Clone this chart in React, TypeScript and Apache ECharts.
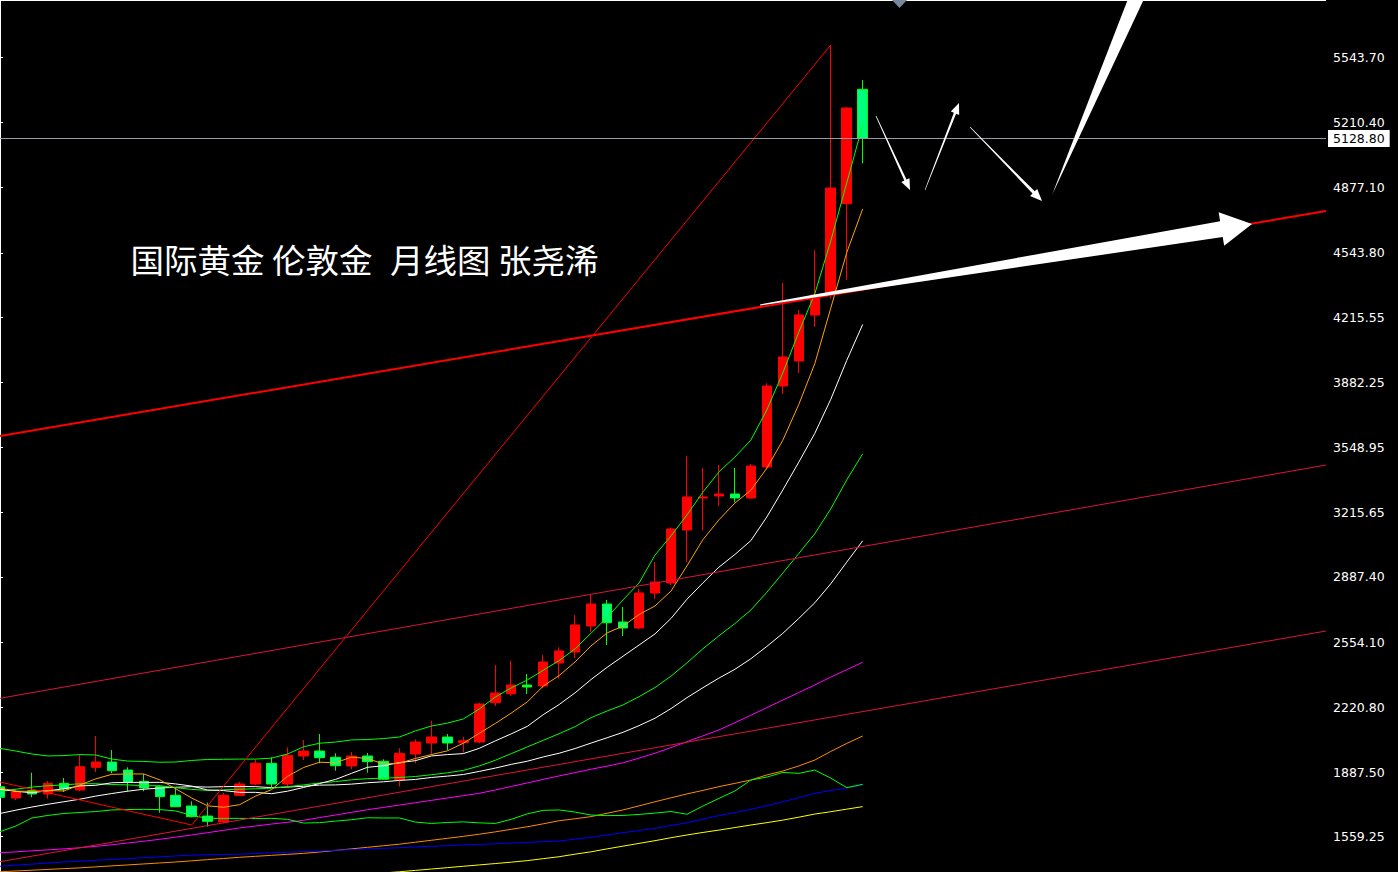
import React, { useEffect, useRef } from 'react';
import * as echarts from 'echarts';

// ---------- data ----------
const months = [
  '2021-09','2021-10','2021-11','2021-12',
  '2022-01','2022-02','2022-03','2022-04','2022-05','2022-06','2022-07','2022-08','2022-09','2022-10','2022-11','2022-12',
  '2023-01','2023-02','2023-03','2023-04','2023-05','2023-06','2023-07','2023-08','2023-09','2023-10','2023-11','2023-12',
  '2024-01','2024-02','2024-03','2024-04','2024-05','2024-06','2024-07','2024-08','2024-09','2024-10','2024-11','2024-12',
  '2025-01','2025-02','2025-03','2025-04','2025-05','2025-06','2025-07','2025-08','2025-09','2025-10','2025-11','2025-12',
  '2026-01','2026-02','2026-03','2026-04','2026-05','2026-06','2026-07','2026-08','2026-09','2026-10','2026-11','2026-12',
  '2027-01','2027-02','2027-03','2027-04','2027-05','2027-06','2027-07','2027-08','2027-09','2027-10','2027-11','2027-12',
  '2028-01','2028-02','2028-03','2028-04','2028-05','2028-06','2028-07','2028-08',
];

const opens = [
  1814.9, 1757.1, 1794.4, 1777.5, 1832.2, 1798.0, 1914.0, 1941.1, 1900.2, 1842.4,
  1814.9, 1770.8, 1716.2, 1665.0, 1634.4, 1770.8, 1828.7, 1934.5, 1828.7, 1971.8,
  1997.3, 1965.2, 1920.7, 1971.8, 1944.7, 1849.1, 1982.0, 2038.2, 2068.9, 2039.8,
  2043.3, 2244.3, 2290.3, 2334.7, 2329.6, 2447.2, 2503.4, 2636.4, 2748.8, 2656.8,
  2626.1, 2805.1, 2856.2, 3127.1, 3290.7, 3301.0, 3311.2, 3290.7, 3449.2, 3863.3,
  3991.1, 4226.3, 4338.7, 4795.2, 5380.1,
];
const closes = [
  1760.7, 1787.7, 1777.5, 1832.2, 1804.7, 1917.1, 1941.1, 1896.6, 1838.9, 1808.2,
  1763.7, 1712.6, 1661.5, 1637.9, 1770.8, 1828.7, 1934.5, 1828.7, 1975.4, 1997.3,
  1963.1, 1922.2, 1971.8, 1942.7, 1852.7, 1985.6, 2043.3, 2068.9, 2038.2, 2050.0,
  2237.6, 2293.8, 2334.7, 2324.5, 2452.3, 2508.6, 2641.5, 2748.8, 2653.2, 2626.1,
  2805.1, 2861.3, 3132.2, 3295.8, 3295.8, 3311.2, 3290.7, 3454.3, 3863.3, 4011.5,
  4226.3, 4328.5, 4875.5, 5284.5, 5128.8,
];
const lows = [
  1721.0, 1746.9, 1760.7, 1753.5, 1787.7, 1791.4, 1890.0, 1883.3, 1791.4, 1791.4,
  1681.9, 1709.5, 1658.4, 1610.3, 1627.7, 1767.3, 1822.0, 1811.8, 1811.8, 1951.3,
  1934.5, 1896.6, 1903.8, 1886.4, 1849.1, 1814.9, 1934.5, 1976.9, 2002.4, 1988.7,
  2036.7, 2227.4, 2278.5, 2288.7, 2319.0, 2367.0, 2472.8, 2605.7, 2539.2, 2585.2,
  2619.5, 2774.4, 2846.0, 2963.5, 3123.6, 3249.8, 3268.0, 3285.6, 3436.0, 3822.4,
  3929.8, 4164.9, 4310.0, 4405.2, 5001.8,
];
const highs = [
  1834.0, 1800.0, 1886.4, 1844.0, 1859.3, 1978.4, 2074.0, 2002.4, 1914.0, 1879.8,
  1822.0, 1808.2, 1740.2, 1733.1, 1784.2, 1838.9, 1954.9, 1965.2, 2016.2, 2053.6,
  2084.2, 1985.6, 1992.2, 1987.1, 1954.9, 2011.1, 2057.1, 2152.2, 2084.2, 2070.4,
  2244.3, 2437.0, 2459.0, 2391.0, 2488.1, 2527.5, 2692.6, 2800.0, 2769.3, 2733.5,
  2827.1, 2963.5, 3140.0, 3505.4, 3444.1, 3459.4, 3444.1, 3464.5, 3877.1, 4389.9,
  4251.8, 4558.5, 5606.5, 5290.0, 5427.6,
];

const ma5 = [
  1808, 1792, 1791, 1795, 1793, 1824, 1855, 1878, 1880, 1880,
  1850, 1804, 1757, 1717, 1710, 1723, 1767, 1800, 1868, 1913,
  1940, 1937, 1966, 1959, 1931, 1935, 1959, 1979, 1998, 2037,
  2088, 2138, 2191, 2248, 2329, 2383, 2453, 2535, 2601, 2636,
  2695, 2739, 2815, 2944, 3078, 3179, 3265, 3330, 3443, 3586,
  3769, 3977, 4261, 4545, 4769,
];
const ma10 = [
  1802, 1791, 1784, 1794, 1804, 1819, 1822, 1835, 1837, 1837,
  1837, 1829, 1818, 1798, 1795, 1786, 1786, 1779, 1792, 1811,
  1831, 1852, 1883, 1914, 1922, 1938, 1948, 1972, 1979, 1984,
  2011, 2049, 2085, 2123, 2183, 2235, 2295, 2363, 2425, 2482,
  2539, 2596, 2675, 2773, 2857, 2937, 3002, 3073, 3194, 3332,
  3474, 3621, 3795, 3994, 4178,
];
const bbMid = [
  1792, 1802, 1813, 1820, 1824, 1830, 1830, 1826, 1824, 1820,
  1820, 1810, 1801, 1796, 1799, 1802, 1804, 1807, 1815, 1824,
  1834, 1841, 1850, 1856, 1858, 1862, 1867, 1876, 1886, 1898,
  1921, 1950, 1984, 2018, 2052, 2086, 2122, 2168, 2202, 2233,
  2275, 2322, 2380, 2448, 2520, 2586, 2649, 2718, 2809, 2907,
  3007, 3108, 3235, 3383, 3517,
];
const bbUpper = [
  2011, 1997, 1982, 1972, 1974, 1979, 1977, 1956, 1946, 1944,
  1940, 1941, 1949, 1954, 1955, 1956, 1956, 1961, 1982, 2019,
  2037, 2043, 2054, 2056, 2061, 2069, 2100, 2125, 2140, 2161,
  2212, 2273, 2320, 2360, 2410, 2460, 2520, 2600, 2680, 2770,
  2856, 2999, 3097, 3204, 3321, 3424, 3500, 3587, 3741, 3930,
  4139, 4334, 4605, 4901, 5198,
];
const bbLower = [
  1585, 1614, 1655, 1668, 1678, 1683, 1688, 1696, 1698, 1699,
  1698, 1691, 1668, 1653, 1653, 1653, 1652, 1653, 1648, 1629,
  1631, 1639, 1646, 1656, 1655, 1655, 1634, 1627, 1632, 1635,
  1630, 1627, 1648, 1676, 1694, 1696, 1685, 1670, 1667, 1668,
  1673, 1680, 1688, 1674, 1716, 1755, 1793, 1849, 1864, 1888,
  1883, 1900, 1859, 1810, 1827,
];
const ma30 = [
  1678, 1695, 1711, 1725, 1738, 1751, 1767, 1780, 1792, 1802,
  1808, 1812, 1815, 1813, 1815, 1816, 1815, 1810, 1813, 1817,
  1823, 1824, 1828, 1835, 1840, 1847, 1852, 1862, 1869, 1877,
  1893, 1910, 1929, 1945, 1967, 1986, 2010, 2038, 2065, 2093,
  2127, 2165, 2214, 2270, 2321, 2370, 2415, 2469, 2532, 2599,
  2675, 2755, 2852, 2963, 3072,
];
const ma60 = [
  1477, 1482, 1487, 1492, 1497, 1503, 1510, 1518, 1527, 1536,
  1546, 1557, 1568, 1580, 1592, 1604, 1614, 1624, 1633, 1643,
  1657, 1670, 1684, 1697, 1709, 1721, 1733, 1745, 1757, 1769,
  1781, 1798, 1816, 1834, 1852, 1870, 1887, 1904, 1920, 1937,
  1961, 1986, 2015, 2045, 2075, 2105, 2142, 2180, 2219, 2258,
  2296, 2335, 2375, 2413, 2451,
];
const ma120 = [
  1380, 1384, 1388, 1392, 1396, 1400, 1405, 1410, 1415, 1420,
  1425, 1430, 1436, 1442, 1448, 1454, 1459, 1464, 1469, 1474,
  1481, 1489, 1497, 1505, 1513, 1521, 1531, 1541, 1551, 1561,
  1572, 1584, 1597, 1610, 1625, 1641, 1651, 1662, 1679, 1696,
  1717, 1738, 1758, 1778, 1796, 1815, 1832, 1849, 1875, 1895,
  1921, 1951, 1995, 2036, 2074,
];
const maBlue = [
  1408, 1414, 1419, 1425, 1430, 1434, 1439, 1443, 1447, 1452,
  1456, 1461, 1465, 1467, 1468, 1470, 1473, 1477, 1480, 1483,
  1486, 1490, 1493, 1497, 1500, 1503, 1507, 1510, 1513, 1517,
  1520, 1523, 1527, 1530, 1534, 1537, 1547, 1556, 1568, 1580,
  1591, 1602, 1616, 1631, 1649, 1667, 1683, 1699, 1718, 1738,
  1759, 1781, 1795, 1808, 1824,
];
const maYellow = [
  null, null, null, null, null, null, null, null, null, null,
  null, null, null, null, null, null, null, null, null, null,
  1350, 1356, 1362, 1368, 1374, 1380, 1387, 1394, 1401, 1408,
  1415, 1422, 1429, 1437, 1447, 1457, 1470, 1482, 1497, 1511,
  1525, 1539, 1554, 1568, 1581, 1593, 1606, 1619, 1631, 1644,
  1659, 1675, 1687, 1700, 1713,
];

// trend lines: [category index, price]
const thickTrend = [[0, 3607.7], [83, 4757.9]];
const channelTop = [[0, 2266.8], [83, 3459.4]];
const channelBottom = [[0, 1431.4], [83, 2610.8]];
const vDown = [[0, 1838.9], [12, 1619.0]];
const vUp = [[12, 1619.0], [52, 5606.5]];

const lastPrice = 5128.8;
const yTicks = [5543.70, 5210.40, 4877.10, 4543.80, 4215.55, 3882.25, 3548.95, 3215.65, 2887.40, 2554.10, 2220.80, 1887.50, 1559.25];
const titleParts = ['国际黄金 伦敦金', '月线图 张尧浠'];

// ---------- helpers ----------
function arrowPts(tail: number[], tip: number[], w0: number, w1: number, headLen: number, headHalf: number) {
  const dx = tip[0] - tail[0];
  const dy = tip[1] - tail[1];
  const L = Math.hypot(dx, dy);
  const ux = dx / L, uy = dy / L;
  const nx = -uy, ny = ux;
  const bx = tip[0] - ux * headLen, by = tip[1] - uy * headLen;
  return [
    [tail[0] + nx * w0, tail[1] + ny * w0],
    [bx + nx * w1, by + ny * w1],
    [bx + nx * headHalf, by + ny * headHalf],
    [tip[0], tip[1]],
    [bx - nx * headHalf, by - ny * headHalf],
    [bx - nx * w1, by - ny * w1],
    [tail[0] - nx * w0, tail[1] - ny * w0],
  ];
}

function maLine(name: string, data: any[], color: string, width = 1) {
  return {
    name, type: 'line', data, symbol: 'none', silent: true, z: 3,
    lineStyle: { color, width }, connectNulls: false, animation: false,
  };
}

function trend(name: string, data: number[][], color: string, width = 1) {
  return {
    name, type: 'line', xAxisIndex: 1, yAxisIndex: 0, data, symbol: 'none', silent: true, z: 3,
    lineStyle: { color, width }, animation: false,
  };
}

export default function App() {
  const ref = useRef<HTMLDivElement>(null);

  useEffect(() => {
    if (!ref.current) return;
    const chart = echarts.init(ref.current, null, { renderer: 'svg' });
    const candleData = opens.map((o, i) => [o, closes[i], lows[i], highs[i]]);

    const white = '#ffffff';
    const titleFont = '33.5px "Noto Sans CJK SC"';
    const option: any = {
      animation: false,
      backgroundColor: '#000000',
      grid: { left: 0, right: 72, top: 0, bottom: 0, containLabel: false },
      xAxis: [
        { type: 'category', data: months, boundaryGap: false, show: false },
        { type: 'value', min: 0, max: 83, show: false },
      ],
      yAxis: {
        type: 'value', position: 'right', min: 1378.8, max: 5836.6,
        axisLine: { show: true, lineStyle: { color: white, width: 1 } },
        axisTick: { show: true, customValues: yTicks, length: 3, lineStyle: { color: white } },
        axisLabel: {
          customValues: yTicks, color: white, fontFamily: 'DejaVu Sans', fontSize: 12.5, margin: 7,
          formatter: (v: number) => v.toFixed(2),
        },
        splitLine: { show: false },
      },
      series: [
        {
          name: 'XAUUSD', type: 'candlestick', data: candleData, barWidth: 10, z: 2,
          itemStyle: {
            color: '#ff0000', color0: '#00ff7f', borderColor: '#ff0000', borderColor0: '#00ff00', borderWidth: 1,
          },
          markLine: {
            silent: true, symbol: ['none', 'none'], animation: false,
            lineStyle: { color: '#9a9aa6', width: 1, type: 'solid' },
            label: {
              show: true, position: 'end', distance: 2, formatter: lastPrice.toFixed(2),
              backgroundColor: '#ffffff', color: '#000000', fontFamily: 'DejaVu Sans', fontSize: 12.5,
              padding: [2, 5, 2, 5],
            },
            data: [{ yAxis: lastPrice }],
          },
        },
        maLine('MA120', ma120, '#ff8c00'),
        maLine('MAblue', maBlue, '#0000ff'),
        maLine('MAyellow', maYellow, '#ffff00'),
        maLine('MA60', ma60, '#ff00ff'),
        maLine('BB lower', bbLower, '#00ff00'),
        maLine('MA30', ma30, white),
        maLine('BB mid', bbMid, '#00ff00'),
        maLine('MA10', ma10, white),
        maLine('MA5', ma5, '#ffa500'),
        maLine('BB upper', bbUpper, '#00ff00'),
        trend('channel bottom', channelBottom, '#dc143c'),
        trend('channel top', channelTop, '#dc143c'),
        trend('v down', vDown, '#ff0000'),
        trend('v up', vUp, '#ff0000'),
        trend('thick trend', thickTrend, '#ff0000', 2),
      ],
      graphic: [
        { type: 'line', z: 100, shape: { x1: 0, y1: 0.5, x2: 1326, y2: 0.5 }, style: { stroke: white, lineWidth: 1 } },
        { type: 'polygon', z: 100, shape: { points: [[892, 0], [907, 0], [899.5, 8]] }, style: { fill: '#778899' } },
        {
          type: 'text', z: 100, x: 130.5, y: 258,
          style: { text: titleParts[0], fill: white, font: titleFont, verticalAlign: 'middle', align: 'left' },
        },
        {
          type: 'text', z: 100, x: 390, y: 258,
          style: { text: titleParts[1], fill: white, font: titleFont, verticalAlign: 'middle', align: 'left' },
        },
        { type: 'polygon', z: 100, shape: { points: arrowPts([760, 305], [1252, 224], 0.6, 8, 31, 17) }, style: { fill: white } },
        { type: 'polygon', z: 100, shape: { points: arrowPts([876, 116], [910, 190], 0.3, 1.2, 11, 4.5) }, style: { fill: white } },
        { type: 'polygon', z: 100, shape: { points: arrowPts([925, 190], [959, 103], 0.3, 1.2, 11, 4.5) }, style: { fill: white } },
        { type: 'polygon', z: 100, shape: { points: arrowPts([970, 127], [1042, 201], 0.3, 1.5, 12, 5) }, style: { fill: white } },
        { type: 'polygon', z: 100, shape: { points: [[1052, 195], [1128, -1], [1144, -1]] }, style: { fill: white } },
      ],
    };
    chart.setOption(option);
    return () => chart.dispose();
  }, []);

  return (
    <div
      ref={ref}
      style={{ position: 'absolute', left: 0, top: 0, width: 1398, height: 872, background: '#000' }}
    />
  );
}
